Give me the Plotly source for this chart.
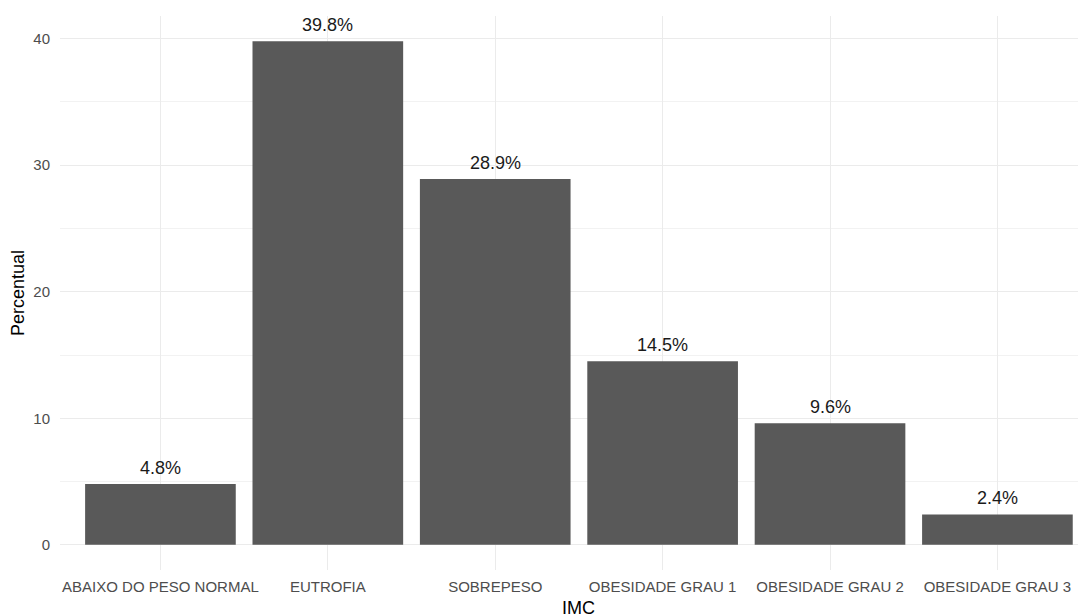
import plotly.graph_objects as go

categories = ["ABAIXO DO PESO NORMAL", "EUTROFIA", "SOBREPESO",
              "OBESIDADE GRAU 1", "OBESIDADE GRAU 2", "OBESIDADE GRAU 3"]
percent = [4.8, 39.8, 28.9, 14.5, 9.6, 2.4]
y_ticks = [0, 10, 20, 30, 40]
x_title = "IMC"
y_title = "Percentual"

FONT = "Liberation Sans, Arial, sans-serif"
xpos = list(range(len(categories)))

fig = go.Figure()
fig.add_trace(go.Bar(
    x=xpos, y=percent, width=0.9,
    marker=dict(color="#595959", line=dict(width=0)),
    hoverinfo="skip",
))

for xi, v in zip(xpos, percent):
    fig.add_annotation(x=xi, y=v, xref="x", yref="y", text=f"{v:.1f}%",
                       showarrow=False, yanchor="bottom", yshift=4,
                       font=dict(family=FONT, size=18, color="#1a1a1a"))

fig.add_annotation(x=2.5, y=0, xref="x", yref="paper", text=x_title,
                   showarrow=False, yanchor="middle", yshift=-38,
                   font=dict(family=FONT, size=18, color="black"))
fig.add_annotation(x=0, y=19.9, xref="paper", yref="y", text=y_title,
                   showarrow=False, textangle=-90, xanchor="center", xshift=-42,
                   font=dict(family=FONT, size=18, color="black"))

fig.update_layout(
    width=1086, height=614,
    margin=dict(l=52, r=0, t=8, b=52),
    plot_bgcolor="white", paper_bgcolor="white",
    showlegend=False, bargap=0.1,
    font=dict(family=FONT),
    xaxis=dict(
        tickmode="array", tickvals=xpos, ticktext=categories,
        range=[-0.6, 5.577], showgrid=True, gridcolor="#ebebeb", gridwidth=1,
        zeroline=False, showline=False,
        ticks="outside", ticklen=3, tickcolor="rgba(0,0,0,0)",
        tickfont=dict(family=FONT, size=15, color="#4d4d4d"),
    ),
    yaxis=dict(
        tickmode="array", tickvals=y_ticks,
        range=[-1.99, 41.79], showgrid=True, gridcolor="#ebebeb", gridwidth=1,
        zeroline=False, showline=False,
        ticks="outside", ticklen=6, tickcolor="rgba(0,0,0,0)",
        tickfont=dict(family=FONT, size=15, color="#4d4d4d"),
        minor=dict(tickmode="array", tickvals=[5, 15, 25, 35], showgrid=True,
                   gridcolor="#f2f2f2", gridwidth=1),
    ),
)

fig.write_html("out.html")
